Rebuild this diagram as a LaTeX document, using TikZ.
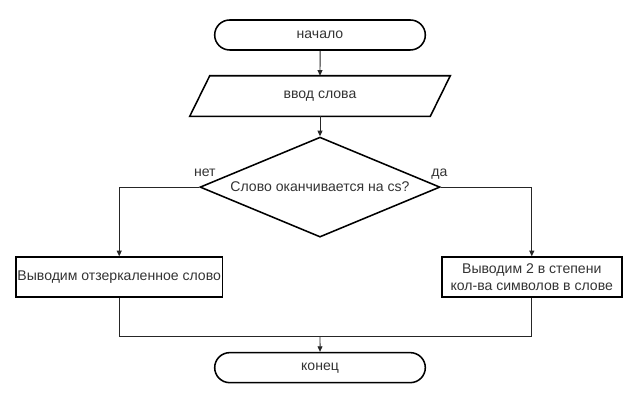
\documentclass[tikz,border=0pt]{standalone}
\usepackage{fontspec}
\setmainfont{Liberation Sans}
\usetikzlibrary{positioning,shapes.geometric,shapes.misc,arrows.meta}

\begin{document}
\begin{tikzpicture}[node distance=0.625cm,
  every node/.style = {font=\fontsize{10}{12}\selectfont, text=black!80},
  terminal/.style = {rounded rectangle, draw, line width=1.1pt, minimum width=5.5cm, minimum height=0.75cm},
  inputbox/.style = {rectangle, minimum width=6cm, minimum height=1cm},
  decision/.style = {diamond, draw, line width=1.1pt, aspect=2.4, inner sep=0pt, minimum width=6cm, minimum height=2.5cm},
  process/.style = {rectangle, draw, line width=1.1pt, minimum height=1cm, align=center, inner sep=1pt},
  outline/.style = {draw, line width=1.1pt},
  link/.style = {draw=black!85, line width=0.7pt},
  arrow/.style = {link, -{Triangle[length=4pt,width=3.5pt]}},
  answer/.style = {inner sep=1pt, text height=1.6ex, text depth=0.3ex}]

  \useasboundingbox (0,0) rectangle (16,10);

  \node[terminal] (start) at (8,9.125) {начало};
  \node[inputbox, below=of start] (read) {ввод слова};
  \node[decision, below=0.5cm of read] (check) {Слово оканчивается на cs?};
  \node[process, minimum width=5cm] (mirror) at ([xshift=-2cm,yshift=-2.25cm]check.west) {Выводим отзеркаленное слово};
  \node[process, minimum width=4.5cm] (power) at ([xshift=2.275cm,yshift=-2.25cm]check.east) {Выводим 2 в степени\\кол-ва символов в слове};
  \node[terminal, below=2.85cm of check] (stop) {конец};
  \coordinate[above=0.375cm of stop] (join);

  % slanted input box
  \draw[outline] ([xshift=-0.25cm]read.south west) -- ([xshift=0.25cm]read.north west)
    -- ([xshift=0.25cm]read.north east) -- ([xshift=-0.25cm]read.south east) -- cycle;

  % labels of the branches
  \node[answer, above=5pt of check.west, xshift=4pt] {нет};
  \node[answer, above=5pt of check.east, xshift=-1pt] {да};

  \draw[arrow] (start) -- (read);
  \draw[arrow] (read) -- (check);
  \draw[arrow] (check.west) -| (mirror.north);
  \draw[arrow] (check.east) -| (power.north);
  \draw[link] (mirror.south) |- (join) -| (power.south);
  \draw[arrow] (join) -- (stop);
\end{tikzpicture}
\end{document}
